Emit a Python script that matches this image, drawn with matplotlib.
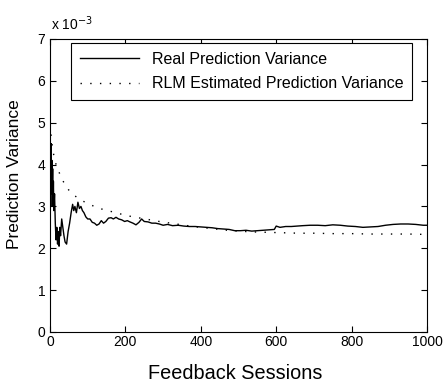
import matplotlib
matplotlib.use("Agg")
import matplotlib.pyplot as plt

plt.rcParams['font.family'] = ['Liberation Sans', 'DejaVu Sans']

# Real prediction variance (x 1e-3)
real_x = [0, 1, 2, 3, 4, 5, 6, 7, 8, 9, 10, 12, 14, 16, 18, 20, 22, 24, 26, 28,
          31, 34, 37, 40, 44, 48, 52, 56, 60, 63, 66, 70, 74, 78, 82, 86, 90, 95,
          100, 106, 112, 118, 124, 130, 136, 142, 148, 155, 162, 168, 175, 182,
          190, 198, 205, 212, 220, 228, 236, 243, 250, 260, 270, 280, 290, 300,
          312, 325, 340, 355, 370, 385, 400, 415, 430, 445, 460, 475, 490, 505,
          520, 535, 550, 565, 580, 595, 600, 610, 625, 640, 655, 670, 690, 710,
          730, 750, 770, 790, 810, 830, 850, 870, 890, 910, 930, 950, 970, 990, 1000]
real_y = [2.9, 3.9, 3.0, 4.5, 3.6, 4.1, 3.3, 3.9, 3.0, 3.6, 2.9, 3.3, 2.6, 2.2, 2.5,
          2.1, 2.4, 2.05, 2.5, 2.3, 2.7, 2.5, 2.3, 2.15, 2.1, 2.4, 2.6, 2.85, 3.05,
          2.9, 3.0, 2.85, 3.1, 2.95, 3.0, 2.9, 2.85, 2.75, 2.7, 2.7, 2.62, 2.6, 2.55,
          2.58, 2.66, 2.6, 2.64, 2.72, 2.73, 2.7, 2.74, 2.7, 2.68, 2.64, 2.66, 2.63,
          2.6, 2.56, 2.62, 2.7, 2.64, 2.63, 2.6, 2.6, 2.58, 2.55, 2.57, 2.54, 2.55,
          2.53, 2.52, 2.52, 2.51, 2.5, 2.49, 2.47, 2.46, 2.45, 2.42, 2.42, 2.43, 2.41,
          2.42, 2.43, 2.44, 2.45, 2.53, 2.5, 2.52, 2.52, 2.53, 2.54, 2.55, 2.55, 2.54,
          2.56, 2.55, 2.53, 2.52, 2.5, 2.51, 2.52, 2.55, 2.57, 2.58, 2.58, 2.57, 2.55, 2.55]

# RLM estimated prediction variance (x 1e-3)
est_x = [0, 3, 6, 9, 13, 17, 22, 28, 35, 42, 49, 57, 66, 75, 85, 97, 110, 125, 140,
         157, 175, 195, 215, 240, 265, 290, 320, 350, 380, 410, 440, 470, 500, 540,
         580, 620, 660, 700, 750, 800, 850, 900, 950, 1000]
est_y = [4.95, 4.7, 4.45, 4.27, 4.1, 3.97, 3.87, 3.72, 3.6, 3.48, 3.4, 3.32, 3.25,
         3.2, 3.14, 3.08, 3.03, 2.97, 2.93, 2.89, 2.85, 2.8, 2.76, 2.72, 2.68, 2.64,
         2.6, 2.56, 2.52, 2.49, 2.46, 2.43, 2.41, 2.39, 2.38, 2.37, 2.36, 2.36, 2.35,
         2.35, 2.34, 2.34, 2.34, 2.33]

fig = plt.figure(figsize=(4.43, 3.83), dpi=100)
ax = fig.add_axes([0.1129, 0.1332, 0.851, 0.765])

ax.plot(real_x, real_y, color="black", linewidth=1.0, label="Real Prediction Variance")
ax.plot(est_x, est_y, color="black", linewidth=1.0, linestyle=(0, (1, 6)),
        label="RLM Estimated Prediction Variance")

ax.set_xlim(0, 1000)
ax.set_ylim(0, 7)
ax.set_xticks([0, 200, 400, 600, 800, 1000])
ax.set_yticks([0, 1, 2, 3, 4, 5, 6, 7])
ax.tick_params(direction="in", top=True, right=True, length=4, labelsize=10, width=0.8)
ax.tick_params(axis="x", pad=2)
for s in ax.spines.values():
    s.set_linewidth(0.8)

ax.set_xlabel("Feedback Sessions", fontsize=14.3)
ax.set_ylabel("Prediction Variance", fontsize=12.5)
ax.xaxis.set_label_coords(0.49, -0.108)
ax.yaxis.set_label_coords(-0.075, 0.54)
ax.text(0.003, 1.02, r"x 10$^{-3}$", transform=ax.transAxes, fontsize=10, va="bottom")

leg = ax.legend(loc="upper right", bbox_to_anchor=(0.96, 0.986), fontsize=11.5,
                handlelength=3.7, fancybox=False, framealpha=1, edgecolor="black",
                borderpad=0.55, labelspacing=0.6, borderaxespad=0)
leg.get_frame().set_linewidth(0.8)

plt.savefig("out.png", dpi=100)
